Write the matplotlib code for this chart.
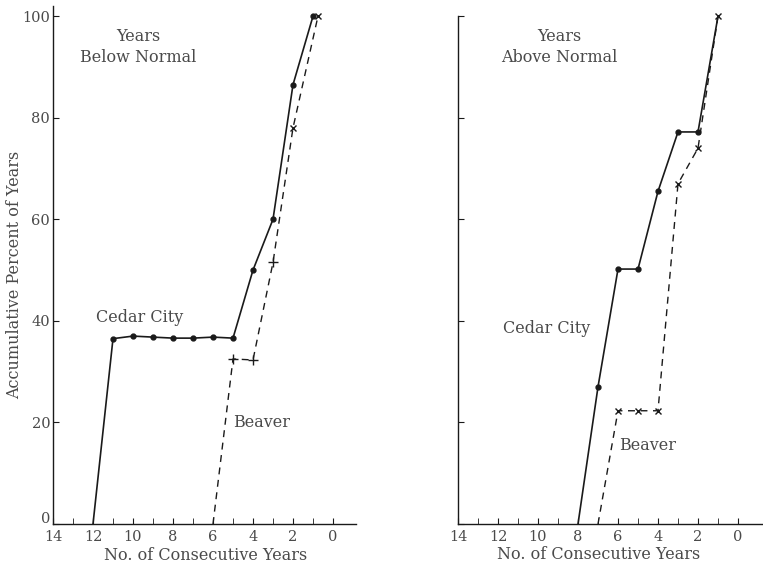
import numpy as np
import matplotlib
matplotlib.use('Agg')
import matplotlib.pyplot as plt
import matplotlib.transforms as mtrans

# Years below normal
cedar_below_x = [12, 11, 10, 9, 8, 7, 6, 5, 4, 3, 2, 1]
cedar_below_y = [0, 36.5, 37, 36.8, 36.6, 36.6, 36.8, 36.6, 50, 60, 86.5, 100]
beaver_below_x = [6, 5, 4, 3, 2, 0.75]
beaver_below_y = [0, 32.5, 32.3, 51.5, 78, 100]

# Years above normal
cedar_above_x = [8, 7, 6, 5, 4, 3, 2, 1]
cedar_above_y = [0, 27, 50.2, 50.2, 65.5, 77.2, 77.2, 100]
beaver_above_x = [7, 6, 5, 4, 3, 2, 1]
beaver_above_y = [0, 22.3, 22.3, 22.3, 67, 74, 100]

yticks = [0, 20, 40, 60, 80, 100]
xticks = [14, 12, 10, 8, 6, 4, 2, 0]

ink = '#1a1a1a'
txt = '#4a4a4a'
plt.rcParams['font.family'] = ['DejaVu Serif']

fig = plt.figure(figsize=(7.63, 5.64), dpi=100)
ax1 = fig.add_axes([53/763, 40/564, 303/763, 518/564])
ax2 = fig.add_axes([458/763, 40/564, 305/763, 518/564])


def style(ax, right_lim, labels_y):
    ax.set_xlim(14, right_lim)
    ax.set_ylim(0, 102)
    for s in ['top', 'right']:
        ax.spines[s].set_visible(False)
    for s in ['left', 'bottom']:
        ax.spines[s].set_color(ink)
        ax.spines[s].set_linewidth(1.0)
    ax.set_xticks(xticks)
    ax.set_xticks(np.arange(0, 15), minor=True)
    ax.set_yticks(yticks)
    ax.tick_params(direction='in', length=4, colors=ink, labelcolor=txt,
                   labelsize=10.5, pad=2)
    ax.tick_params(axis='x', pad=4)
    ax.tick_params(which='minor', direction='in', length=4, colors=ink)
    if not labels_y:
        ax.set_yticklabels([])
    ax.patch.set_alpha(0)


# left panel
ax1.plot(cedar_below_x, cedar_below_y, '-', color=ink, lw=1.2,
         marker='o', ms=3.5, markevery=list(range(1, len(cedar_below_x))))
ax1.plot(beaver_below_x, beaver_below_y, color=ink, lw=1.0, dashes=(5, 4))
ax1.plot(beaver_below_x[1:4], beaver_below_y[1:4], '+', color=ink, ms=7, mew=1)
ax1.plot(beaver_below_x[4:], beaver_below_y[4:], 'x', color=ink, ms=5, mew=1)
style(ax1, -1.15, True)
ax1.spines['left'].set_bounds(0, 102)
# lift the "0" label a little, as in the original
lbl0 = ax1.get_yticklabels()[0]
lbl0.set_transform(lbl0.get_transform() + mtrans.ScaledTranslation(0, 5/72, fig.dpi_scale_trans))
ax1.set_xlabel('No. of Consecutive Years', fontsize=11.5, color=txt)
ax1.xaxis.set_label_coords(0.505, -0.044)
ax1.set_ylabel('Accumulative Percent of Years', fontsize=11.5, color=txt)
ax1.yaxis.set_label_coords(-0.098, 0.48)
ax1.text(9.75, 94, 'Years\nBelow Normal', ha='center', va='center',
         fontsize=11.5, color=txt, linespacing=1.3)
ax1.text(9.65, 40.7, 'Cedar City', ha='center', va='center', fontsize=11.5, color=txt)
ax1.text(5.0, 20, 'Beaver', ha='left', va='center', fontsize=11.5, color=txt)

# right panel
ax2.plot(cedar_above_x, cedar_above_y, '-', color=ink, lw=1.2,
         marker='o', ms=3.5, markevery=list(range(1, len(cedar_above_x) - 1)))
ax2.plot(beaver_above_x, beaver_above_y, color=ink, lw=1.0, dashes=(5, 4))
ax2.plot(beaver_above_x[1:], beaver_above_y[1:], 'x', color=ink, ms=5, mew=1)
style(ax2, -1.25, False)
ax2.spines['left'].set_bounds(0, 100)
ax2.set_xlabel('No. of Consecutive Years', fontsize=11.5, color=txt)
ax2.xaxis.set_label_coords(0.46, -0.042)
ax2.text(8.95, 94, 'Years\nAbove Normal', ha='center', va='center',
         fontsize=11.5, color=txt, linespacing=1.3)
ax2.text(9.55, 38.4, 'Cedar City', ha='center', va='center', fontsize=11.5, color=txt)
ax2.text(5.95, 15.5, 'Beaver', ha='left', va='center', fontsize=11.5, color=txt)

fig.savefig('out.png', dpi=100)
